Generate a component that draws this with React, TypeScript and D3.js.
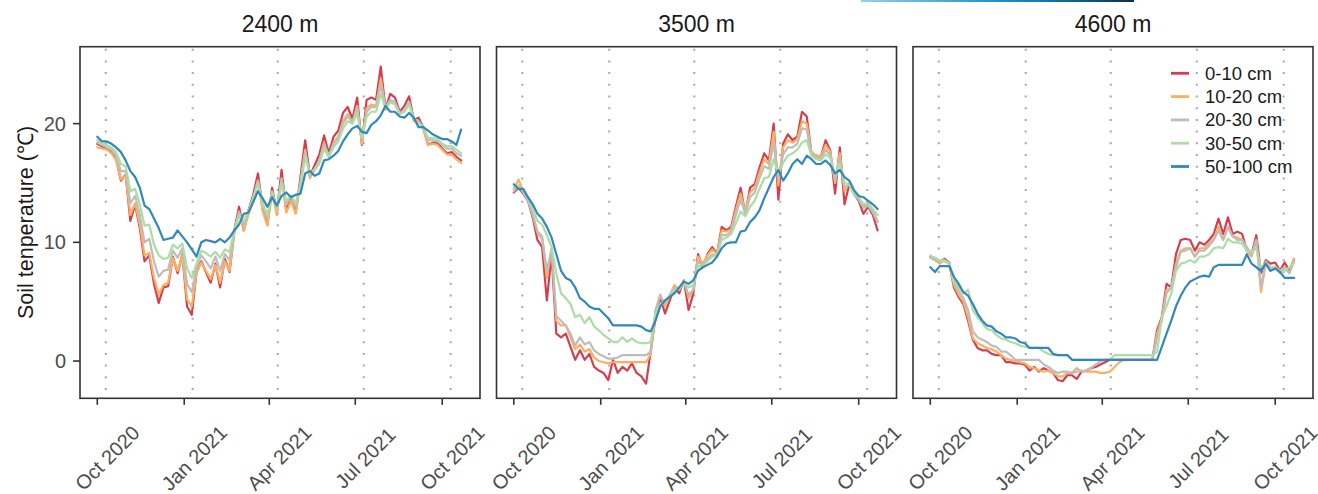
import React from "react";
import * as d3 from "d3";

// ---------- data ----------
const panelTitles = ["2400 m", "3500 m", "4600 m"];
const depthLabels = ["0-10 cm", "10-20 cm", "20-30 cm", "30-50 cm", "50-100 cm"];
const depthColors = ["#d53e4f", "#fdae61", "#bdbdbd", "#abdda4", "#3288bd"];
// sample day offsets from 2020-10-01 (every 5 days)
const sampleDays = d3.range(0, 386, 5);
const xTickDates = ["2020-10-01", "2021-01-01", "2021-04-01", "2021-07-01", "2021-10-01"];
const guideDates = ["2020-10-10", "2021-01-10", "2021-04-10", "2021-07-10", "2021-10-10"];
const yTicks = [0, 10, 20];

// 2400 m
const p1_0_10 = [18.3,18.1,17.9,17.6,17.0,15.2,15.7,11.8,13.2,11.2,
 8.4,8.9,6.5,4.9,6.2,6.3,8.8,7.4,9.0,4.6,
 3.9,7.5,8.4,7.5,6.6,8.2,6.2,8.6,7.5,11.0,
 13.0,11.0,12.7,14.0,15.8,12.9,11.5,14.6,12.5,16.1,
 12.6,13.9,12.5,15.5,18.6,15.6,16.5,17.4,19.0,17.5,
 18.9,19.4,20.9,21.4,20.4,22.2,18.2,22.0,22.2,22.0,
 24.8,21.2,22.5,22.2,21.0,21.5,22.3,20.3,20.5,19.7,
 18.2,18.4,18.4,17.9,17.5,17.6,17.2,16.9];
const p1_10_20 = [18.0,17.9,17.8,17.5,16.9,15.3,15.6,12.3,13.3,11.5,
 8.9,9.1,7.0,5.6,6.4,6.6,8.7,7.6,8.9,5.2,
 4.6,7.4,8.3,7.6,6.9,8.1,6.6,8.4,7.6,10.8,
 12.6,11.0,12.4,13.6,15.2,12.6,11.4,14.1,12.3,15.4,
 12.5,13.5,12.4,15.0,17.8,15.4,16.1,16.9,18.4,17.2,
 18.4,18.9,20.2,20.8,20.1,21.5,18.3,21.3,21.6,21.5,
 23.8,21.2,22.0,21.8,20.8,21.2,21.8,20.2,20.2,19.5,
 18.2,18.3,18.2,17.8,17.4,17.4,17.0,16.7];
const p1_20_30 = [18.4,18.2,18.0,17.8,17.3,16.0,16.0,13.3,13.9,12.3,
 10.0,10.3,8.4,7.1,7.6,7.7,9.3,8.7,9.5,6.5,
 5.8,7.9,8.9,8.4,7.8,8.8,7.6,9.0,8.5,11.0,
 12.5,11.5,12.6,13.8,15.2,13.2,12.0,14.3,12.7,15.3,
 13.2,13.9,13.0,15.0,17.6,15.7,16.2,16.8,18.2,17.3,
 18.3,18.8,20.0,20.6,20.1,21.3,18.6,21.0,21.4,21.4,
 23.3,21.3,22.0,21.8,20.9,21.1,21.8,20.4,20.2,19.7,
 18.6,18.6,18.5,18.2,17.9,17.9,17.5,17.3];
const p1_30_50 = [18.6,18.3,18.2,18.0,17.6,16.6,16.4,14.3,14.5,13.2,
 11.4,11.5,9.8,8.9,8.6,8.7,9.8,9.5,9.9,7.8,
 7.0,8.2,9.3,9.1,8.8,9.2,8.7,9.4,9.2,11.0,
 12.2,11.8,12.6,13.7,15.0,13.3,12.3,14.2,12.8,15.0,
 13.5,13.9,13.3,14.8,17.2,15.8,16.1,16.6,17.9,17.2,
 18.0,18.5,19.6,20.2,20.0,20.9,18.8,20.6,21.0,21.0,
 22.5,21.3,21.8,21.6,20.8,21.0,21.6,20.4,20.1,19.7,
 18.8,18.8,18.7,18.3,18.1,18.1,17.8,17.5];
const p1_50_100 = [18.9,18.5,18.5,18.3,18.0,17.6,16.9,16.0,15.5,14.6,
 13.1,12.8,12.0,11.2,10.2,10.3,10.4,11.0,10.5,10.0,
 9.4,8.8,10.0,10.2,10.1,10.0,10.3,10.0,10.4,11.0,
 11.5,12.4,12.5,13.4,14.3,13.7,13.0,13.8,13.1,13.9,
 14.2,13.8,14.0,14.1,15.8,16.0,15.6,15.8,16.9,17.0,
 17.3,17.7,18.5,19.1,19.6,19.8,19.3,19.2,19.9,20.2,
 20.7,21.5,21.0,21.0,20.6,20.5,20.9,20.5,19.7,19.7,
 19.4,19.1,18.9,18.7,18.7,18.5,18.2,19.5];

// 3500 m
const p2_0_10 = [14.2,14.6,14.1,13.5,12.1,10.2,9.6,5.1,9.0,2.3,
 2.0,2.3,1.2,0.1,0.9,0.1,0.6,-0.5,-0.8,-1.0,
 -1.6,0.1,-1.0,-0.5,-0.8,-0.2,-1.0,-1.3,-1.9,0.9,
 3.7,5.4,4.0,5.1,6.2,5.7,6.8,4.3,5.7,9.0,
 7.9,9.0,9.6,9.0,11.3,11.0,11.3,13.0,14.6,12.4,
 14.6,14.9,16.3,17.5,16.9,20.0,13.6,18.3,19.1,18.6,
 18.9,21.0,20.6,17.5,17.3,17.2,18.6,17.7,14.1,18.0,
 13.2,14.9,14.1,13.5,12.4,13.0,12.3,11.0];
const p2_10_20 = [14.5,15.3,14.3,13.7,12.4,10.8,10.3,7.0,9.4,3.4,
 3.0,3.0,2.0,1.0,1.4,0.8,1.0,0.3,0.0,-0.1,
 -0.2,-0.1,-0.1,-0.1,-0.1,-0.1,-0.1,-0.1,-0.1,0.6,
 4.2,5.6,4.6,5.5,6.4,6.0,6.8,5.3,6.0,8.8,
 8.2,8.9,9.4,9.0,11.0,10.9,11.1,12.7,14.1,12.6,
 14.2,14.6,15.9,17.0,16.6,19.3,14.8,18.0,18.6,18.4,
 18.7,20.2,20.0,17.6,17.3,17.2,18.2,17.6,15.0,17.5,
 14.3,15.0,14.2,13.7,13.0,13.3,12.6,11.8];
const p2_20_30 = [14.3,14.8,14.2,13.5,12.3,10.9,10.5,7.6,9.5,3.8,
 3.4,3.0,2.3,1.3,2.0,1.4,1.6,0.9,0.6,0.4,
 0.2,0.2,0.3,0.5,0.5,0.5,0.5,0.5,0.5,0.8,
 4.3,5.5,4.8,5.6,6.2,6.0,6.6,5.6,6.0,8.4,
 8.0,8.6,9.0,8.8,10.6,10.6,10.9,12.3,13.6,12.4,
 13.8,14.2,15.4,16.4,16.2,18.4,15.3,17.4,18.0,18.0,
 18.3,19.6,19.5,17.4,17.1,17.0,17.8,17.3,15.2,17.0,
 14.6,14.9,14.0,13.6,12.9,13.1,12.5,11.7];
const p2_30_50 = [14.6,14.8,14.4,13.7,12.8,11.8,11.5,10.6,9.6,7.4,
 5.7,5.3,4.8,3.7,3.9,3.2,3.7,2.9,2.6,2.2,
 1.9,1.6,1.6,2.0,1.6,1.9,1.6,1.5,1.5,1.6,
 4.0,4.8,5.0,5.5,6.0,6.1,6.6,6.2,6.4,8.0,
 8.0,8.4,8.8,8.9,10.2,10.4,10.7,11.6,12.6,12.2,
 13.0,13.5,14.5,15.4,15.5,17.0,15.8,16.7,17.3,17.5,
 17.8,18.4,18.6,17.3,17.0,16.9,17.4,17.1,15.6,16.6,
 15.0,14.9,14.1,13.8,13.2,13.3,12.8,12.3];
const p2_50_100 = [14.9,14.5,14.5,13.8,13.2,12.4,12.0,11.3,10.4,9.0,
 7.6,7.0,6.8,6.2,5.3,5.0,4.6,4.4,4.4,4.0,
 3.6,3.0,3.0,3.0,3.0,3.0,3.0,2.9,2.6,2.5,
 3.4,4.6,5.1,5.4,5.7,6.2,6.7,6.5,6.8,7.6,
 7.9,8.1,8.3,8.8,9.5,9.9,10.0,10.0,10.9,11.0,
 11.7,12.1,12.7,13.7,14.6,15.5,16.1,15.2,15.8,16.6,
 17.0,16.6,17.3,17.0,16.6,16.6,16.9,16.5,15.8,16.1,
 15.5,15.2,14.4,13.9,13.8,13.5,13.2,12.8];

// 4600 m
const p3_0_10 = [8.8,8.6,8.3,8.6,8.3,6.2,5.4,4.8,3.4,1.8,
 1.1,0.9,0.9,0.6,0.5,0.5,-0.1,-0.1,-0.2,-0.2,
 -0.3,-0.8,-0.5,-0.9,-0.6,-0.8,-1.0,-1.6,-1.7,-1.2,
 -1.2,-1.5,-0.9,-0.8,-0.6,-0.5,-0.3,-0.1,0.1,0.1,
 0.1,0.1,0.1,0.1,0.1,0.1,0.1,0.1,2.6,3.7,
 6.5,6.2,9.0,10.2,10.3,10.2,9.3,10.0,9.8,10.2,
 10.7,12.0,10.7,12.1,10.7,10.9,10.7,9.3,9.0,10.6,
 7.4,8.5,8.2,8.3,7.6,8.3,7.6,8.6];
const p3_10_20 = [8.7,8.5,8.2,8.5,8.2,6.4,5.6,5.0,3.7,1.9,
 1.5,1.3,1.1,1.0,0.8,0.5,0.2,0.1,0.0,-0.1,
 -0.2,-0.5,-0.6,-0.8,-0.9,-0.8,-1.0,-1.3,-1.3,-1.0,
 -1.0,-0.9,-0.8,-0.9,-0.9,-0.9,-1.0,-1.0,-0.9,-0.5,
 -0.1,0.1,0.1,0.1,0.1,0.1,0.1,0.1,2.3,3.6,
 6.0,6.1,8.2,9.3,9.5,9.5,8.8,9.5,9.5,9.9,
 10.3,11.3,10.2,11.3,10.5,10.4,10.2,9.3,8.8,10.2,
 5.8,8.2,7.6,7.9,7.4,7.9,7.4,8.6];
const p3_20_30 = [8.8,8.5,8.4,8.5,8.3,6.6,5.9,5.3,4.3,2.5,
 2.0,1.8,1.6,1.3,1.2,0.8,0.8,0.5,0.1,0.1,
 0.1,0.1,0.1,0.1,-0.3,-0.5,-0.8,-1.0,-0.9,-0.9,
 -1.0,-0.6,-0.9,-0.8,-0.6,-0.3,0.0,0.1,0.1,0.1,
 0.1,0.1,0.1,0.1,0.1,0.1,0.1,0.1,2.0,3.4,
 5.7,6.2,7.9,9.2,9.3,9.5,8.8,9.3,9.3,9.7,
 10.2,11.0,10.2,11.3,10.5,10.2,10.2,9.6,9.0,10.2,
 6.2,8.4,7.9,7.9,7.6,7.9,7.4,8.4];
const p3_30_50 = [8.9,8.7,8.5,8.4,8.2,6.8,6.2,5.7,6.0,4.3,
 3.7,3.2,2.7,2.6,2.2,1.9,1.8,1.6,1.5,1.3,
 1.2,1.1,1.1,1.1,0.8,0.6,0.5,0.5,0.5,0.5,
 0.1,0.1,0.1,0.1,0.1,0.1,0.1,0.1,0.1,0.5,
 0.5,0.5,0.5,0.5,0.5,0.5,0.5,0.5,0.8,3.7,
 4.6,5.7,7.6,8.2,8.3,8.5,8.3,8.8,8.8,9.0,
 9.5,9.6,9.5,10.3,10.0,10.0,9.9,9.3,9.2,9.5,
 7.9,8.2,7.9,7.9,7.6,7.6,7.9,8.3];
const p3_50_100 = [7.9,7.5,8.0,8.0,8.0,7.1,6.5,5.8,5.5,4.8,
 4.0,3.4,3.0,2.9,2.5,2.3,2.0,2.0,1.9,1.6,
 1.5,1.1,1.1,1.1,1.1,1.1,0.6,0.5,0.5,0.5,
 0.1,0.1,0.1,0.1,0.1,0.1,0.1,0.1,0.1,0.1,
 0.1,0.1,0.1,0.1,0.1,0.1,0.1,0.1,0.1,1.2,
 2.3,3.4,4.6,5.5,6.2,6.7,6.9,7.1,7.2,7.1,
 7.9,8.1,8.1,8.1,8.1,8.1,8.1,9.0,8.2,7.9,
 7.6,8.2,7.6,7.8,7.5,7.0,7.0,7.0];

const panelSeries = [
  [p1_0_10, p1_10_20, p1_20_30, p1_30_50, p1_50_100],
  [p2_0_10, p2_10_20, p2_20_30, p2_30_50, p2_50_100],
  [p3_0_10, p3_10_20, p3_20_30, p3_30_50, p3_50_100],
];

// ---------- layout ----------
const W = 1318;
const H = 494;
const panelLeft = [80, 496.5, 913];
const PW = 400;
const TOP = 46.7;
const BOTTOM = 398.3;
const DAY = 86400000;
const START = Date.UTC(2020, 9, 1);
const FONT = "'Liberation Sans', Arial, Helvetica, sans-serif";

const parse = d3.utcParse("%Y-%m-%d");
const fmt = d3.utcFormat("%b %Y");

export default function App() {
  const y = d3.scaleLinear().domain([-3.14, 26.48]).range([BOTTOM, TOP]);

  return (
    <svg
      width={W}
      height={H}
      style={{ position: "absolute", left: 0, top: 0, background: "#fff" }}
      fontFamily={FONT}
    >
      <defs>
        <linearGradient id="topbar" x1="0" x2="1" y1="0" y2="0">
          <stop offset="0" stopColor="#8fd3f4" />
          <stop offset="0.45" stopColor="#2a95d2" />
          <stop offset="0.75" stopColor="#0b6aa3" />
          <stop offset="1" stopColor="#0a2f4e" />
        </linearGradient>
      </defs>
      <rect x={0} y={0} width={W} height={H} fill="#fff" />
      <rect x={861} y={0} width={273} height={2} fill="url(#topbar)" />

      {panelSeries.map((series, p) => {
        const left = panelLeft[p];
        const x = d3
          .scaleUtc()
          .domain([new Date(START - 18.3 * DAY), new Date(START + 405 * DAY)])
          .range([left, left + PW]);
        const line = d3
          .line<number>()
          .x((_, i) => x(new Date(START + sampleDays[i] * DAY)))
          .y((v) => y(v));
        return (
          <g key={p}>
            <text
              x={left + PW / 2}
              y={32}
              textAnchor="middle"
              fontSize={23}
              fill="#1a1a1a"
            >
              {panelTitles[p]}
            </text>
            {guideDates.map((g) => {
              const gx = x(parse(g) as Date);
              return (
                <line
                  key={g}
                  x1={gx}
                  x2={gx}
                  y1={TOP + 2}
                  y2={BOTTOM}
                  stroke="#aeaeae"
                  strokeWidth={2.2}
                  strokeDasharray="2 9.7"
                />
              );
            })}
            {series.map((vals, s) => (
              <path
                key={s}
                d={line(vals) || ""}
                fill="none"
                stroke={depthColors[s]}
                strokeWidth={2.2}
                strokeLinejoin="round"
                strokeLinecap="round"
              />
            ))}
            <rect
              x={left}
              y={TOP}
              width={PW}
              height={BOTTOM - TOP}
              fill="none"
              stroke="#333"
              strokeWidth={1.6}
            />
            {xTickDates.map((t) => {
              const tx = x(parse(t) as Date);
              return (
                <g key={t}>
                  <line x1={tx} x2={tx} y1={BOTTOM} y2={BOTTOM + 6.5} stroke="#333" strokeWidth={1.6} />
                  <text
                    transform={`translate(${tx + 10},${458}) rotate(-45)`}
                    textAnchor="middle"
                    dominantBaseline="central"
                    fontSize={20}
                    fill="#4d4d4d"
                  >
                    {fmt(parse(t) as Date)}
                  </text>
                </g>
              );
            })}
            {p === 0 &&
              yTicks.map((t) => (
                <g key={t}>
                  <line x1={left - 7} x2={left} y1={y(t)} y2={y(t)} stroke="#333" strokeWidth={1.6} />
                  <text
                    x={left - 14}
                    y={y(t)}
                    textAnchor="end"
                    dominantBaseline="central"
                    fontSize={20}
                    fill="#4d4d4d"
                  >
                    {t}
                  </text>
                </g>
              ))}
            {p === 2 &&
              depthLabels.map((lab, i) => {
                const ly = 73.3 + i * 23.3;
                return (
                  <g key={lab}>
                    <line x1={1171} x2={1189} y1={ly} y2={ly} stroke={depthColors[i]} strokeWidth={2.8} />
                    <text x={1205} y={ly} dominantBaseline="central" fontSize={18.5} fill="#1a1a1a">
                      {lab}
                    </text>
                  </g>
                );
              })}
          </g>
        );
      })}

      <text
        transform={`translate(33,${(TOP + BOTTOM) / 2}) rotate(-90)`}
        textAnchor="middle"
        fontSize={21.5}
        fill="#1a1a1a"
      >
        Soil tenperature (℃)
      </text>
    </svg>
  );
}
